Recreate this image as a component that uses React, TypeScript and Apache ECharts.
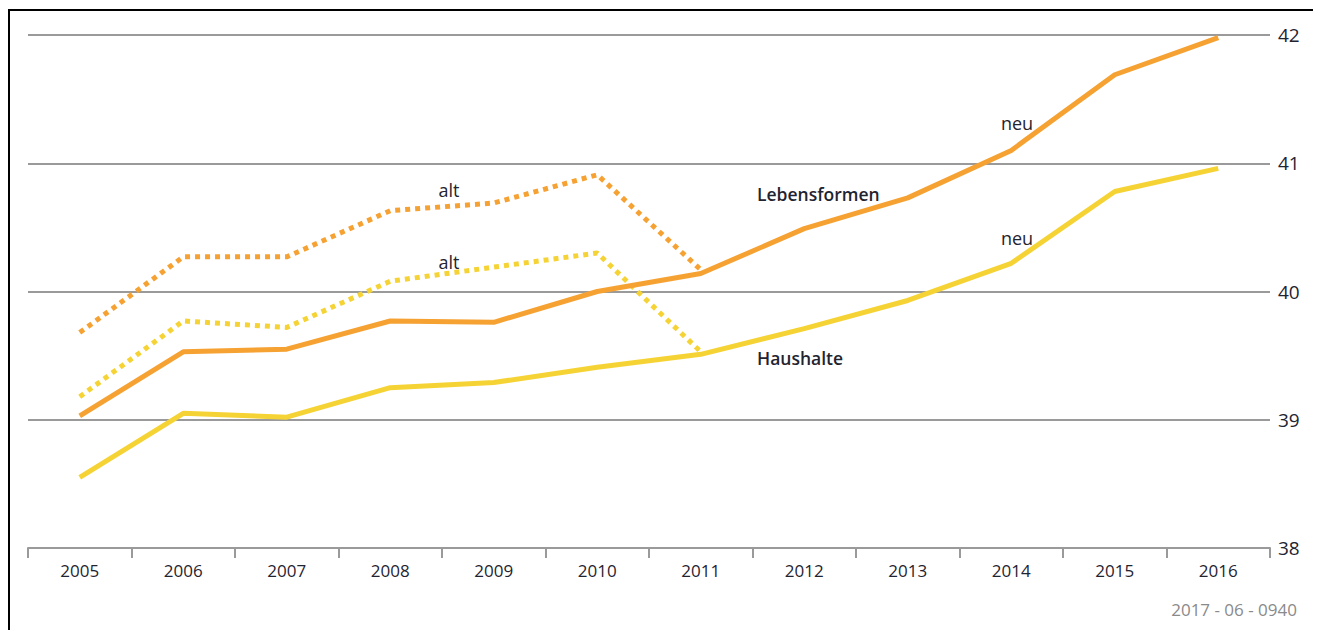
import React, { useEffect, useRef } from "react";
import * as echarts from "echarts";

const years = ["2005", "2006", "2007", "2008", "2009", "2010", "2011", "2012", "2013", "2014", "2015", "2016"];
const lebensformenNeu = [39.03, 39.53, 39.55, 39.77, 39.76, 40.0, 40.14, 40.49, 40.73, 41.1, 41.69, 41.98];
const haushalteNeu = [38.55, 39.05, 39.02, 39.25, 39.29, 39.41, 39.51, 39.71, 39.93, 40.22, 40.78, 40.96];
const lebensformenAlt = [39.68, 40.27, 40.27, 40.63, 40.69, 40.91, 40.17];
const haushalteAlt = [39.18, 39.77, 39.72, 40.08, 40.19, 40.3, 39.53];
const yTicks = [38, 39, 40, 41, 42];
const footnote = "2017 - 06 - 0940";

const ORANGE = "#F6A233";
const YELLOW = "#F6D335";
const FONT = "'Open Sans', 'Noto Sans', sans-serif";

export default function App() {
  const ref = useRef<HTMLDivElement>(null);
  useEffect(() => {
    if (!ref.current) return;
    const chart = echarts.init(ref.current, undefined, { renderer: "svg" });
    const textStyle = { fill: "#1f2430", fontSize: 18, fontFamily: FONT };
    chart.setOption({
      animation: false,
      grid: { left: 20, width: 1242, top: 27, height: 513 },
      xAxis: {
        type: "category",
        data: years,
        boundaryGap: true,
        axisLine: { lineStyle: { color: "#9a9a9a", width: 2 } },
        axisTick: { show: true, length: 10, lineStyle: { color: "#9a9a9a", width: 2 } },
        axisLabel: { color: "#1f2430", fontSize: 17, fontFamily: FONT, margin: 14 },
      },
      yAxis: {
        type: "value",
        position: "right",
        min: yTicks[0],
        max: yTicks[yTicks.length - 1],
        interval: 1,
        axisLine: { show: false },
        axisTick: { show: false },
        splitLine: { lineStyle: { color: "#9a9a9a", width: 2 } },
        axisLabel: { color: "#1f2430", fontSize: 19, fontFamily: FONT, margin: 8 },
      },
      series: [
        {
          type: "line",
          data: lebensformenAlt,
          symbol: "none",
          lineStyle: { color: ORANGE, width: 5, type: [5, 5], cap: "butt" },
        },
        {
          type: "line",
          data: haushalteAlt,
          symbol: "none",
          lineStyle: { color: YELLOW, width: 5, type: [5, 5], cap: "butt" },
        },
        {
          type: "line",
          data: haushalteNeu,
          symbol: "none",
          lineStyle: { color: YELLOW, width: 5 },
        },
        {
          type: "line",
          data: lebensformenNeu,
          symbol: "none",
          lineStyle: { color: ORANGE, width: 5 },
        },
      ],
      graphic: [
        {
          type: "polyline",
          shape: { points: [[1, 640], [1, 2], [1330, 2]] },
          style: { stroke: "#000", lineWidth: 2, fill: "none" },
          silent: true,
        },
        { type: "text", x: 441, y: 182, style: { ...textStyle, text: "alt", textAlign: "center", textVerticalAlign: "middle" } },
        { type: "text", x: 441, y: 254, style: { ...textStyle, text: "alt", textAlign: "center", textVerticalAlign: "middle" } },
        { type: "text", x: 1009, y: 115, style: { ...textStyle, text: "neu", textAlign: "center", textVerticalAlign: "middle" } },
        { type: "text", x: 1009, y: 230, style: { ...textStyle, text: "neu", textAlign: "center", textVerticalAlign: "middle" } },
        { type: "text", x: 749, y: 186, style: { ...textStyle, fontSize: 17.5, text: "Lebensformen", fontWeight: 600, textAlign: "left", textVerticalAlign: "middle" } },
        { type: "text", x: 749, y: 350, style: { ...textStyle, fontSize: 17.5, text: "Haushalte", fontWeight: 600, textAlign: "left", textVerticalAlign: "middle" } },
        { type: "text", x: 1289, y: 601, style: { fill: "#8a8a8a", fontSize: 17, fontFamily: FONT, text: footnote, textAlign: "right", textVerticalAlign: "middle" } },
      ],
    });
    return () => chart.dispose();
  }, []);
  return <div ref={ref} style={{ width: 1313, height: 622 }} />;
}
